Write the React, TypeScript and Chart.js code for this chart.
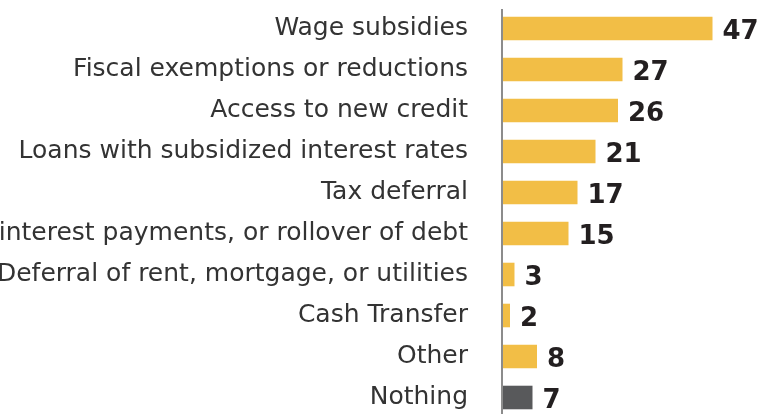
import React, { useEffect, useRef } from "react";
import { Chart, registerables } from "chart.js";

Chart.register(...registerables);

const categories = [
  "Wage subsidies",
  "Fiscal exemptions or reductions",
  "Access to new credit",
  "Loans with subsidized interest rates",
  "Tax deferral",
  "Deferral of interest payments, or rollover of debt",
  "Deferral of rent, mortgage, or utilities",
  "Cash Transfer",
  "Other",
  "Nothing",
];
const values = [47, 27, 26, 21, 17, 15, 3, 2, 8, 7];
const barColors = [
  "#F2BE46", "#F2BE46", "#F2BE46", "#F2BE46", "#F2BE46",
  "#F2BE46", "#F2BE46", "#F2BE46", "#F2BE46", "#58595B",
];

const SHIFT = 300;

export default function App() {
  const ref = useRef<HTMLCanvasElement | null>(null);
  useEffect(() => {
    if (!ref.current) return;
    const valueLabels = {
      id: "valueLabels",
      afterDatasetsDraw(chart: any) {
        const ctx = chart.ctx;
        const { top, bottom, left } = chart.chartArea;
        ctx.save();
        ctx.fillStyle = "#8C8C8C";
        ctx.fillRect(left, top + 1, 2, bottom - top + 10);
        const meta = chart.getDatasetMeta(0);
        ctx.font = "bold 26px 'DejaVu Sans'";
        ctx.fillStyle = "#231F20";
        ctx.textAlign = "left";
        ctx.textBaseline = "alphabetic";
        meta.data.forEach((bar: any, i: number) => {
          ctx.fillText(String(values[i]), bar.x + 10, bar.y + 10);
        });
        ctx.restore();
      },
    };
    const chart = new Chart(ref.current, {
      type: "bar",
      data: {
        labels: categories,
        datasets: [
          {
            data: values,
            backgroundColor: barColors,
            barPercentage: 0.575,
            categoryPercentage: 1,
          },
        ],
      },
      options: {
        indexAxis: "y",
        animation: false,
        responsive: true,
        maintainAspectRatio: false,
        layout: { padding: { top: 8, bottom: 2, left: 0, right: 10 } },
        plugins: { legend: { display: false }, tooltip: { enabled: false } },
        scales: {
          x: { display: false, min: 0, max: 56 },
          y: {
            afterFit(scale: any) {
              scale.width = 501 + SHIFT;
            },
            border: { display: false },
            grid: {
              display: true,
              color: "rgba(0,0,0,0)",
              drawOnChartArea: false,
              drawTicks: true,
              tickLength: 33,
            },
            ticks: {
              padding: 0,
              color: "#333333",
              font: { family: "'DejaVu Sans'", size: 25, lineHeight: 0.1 },
            },
          },
        },
      },
      plugins: [valueLabels],
    });
    return () => chart.destroy();
  }, []);
  return (
    <div style={{ position: "fixed", left: 0, top: 0, width: 763, height: 414, overflow: "hidden", background: "#fff" }}>
      <div style={{ position: "absolute", left: -SHIFT, top: 0, width: 763 + SHIFT, height: 420 }}>
        <canvas ref={ref} />
      </div>
    </div>
  );
}
